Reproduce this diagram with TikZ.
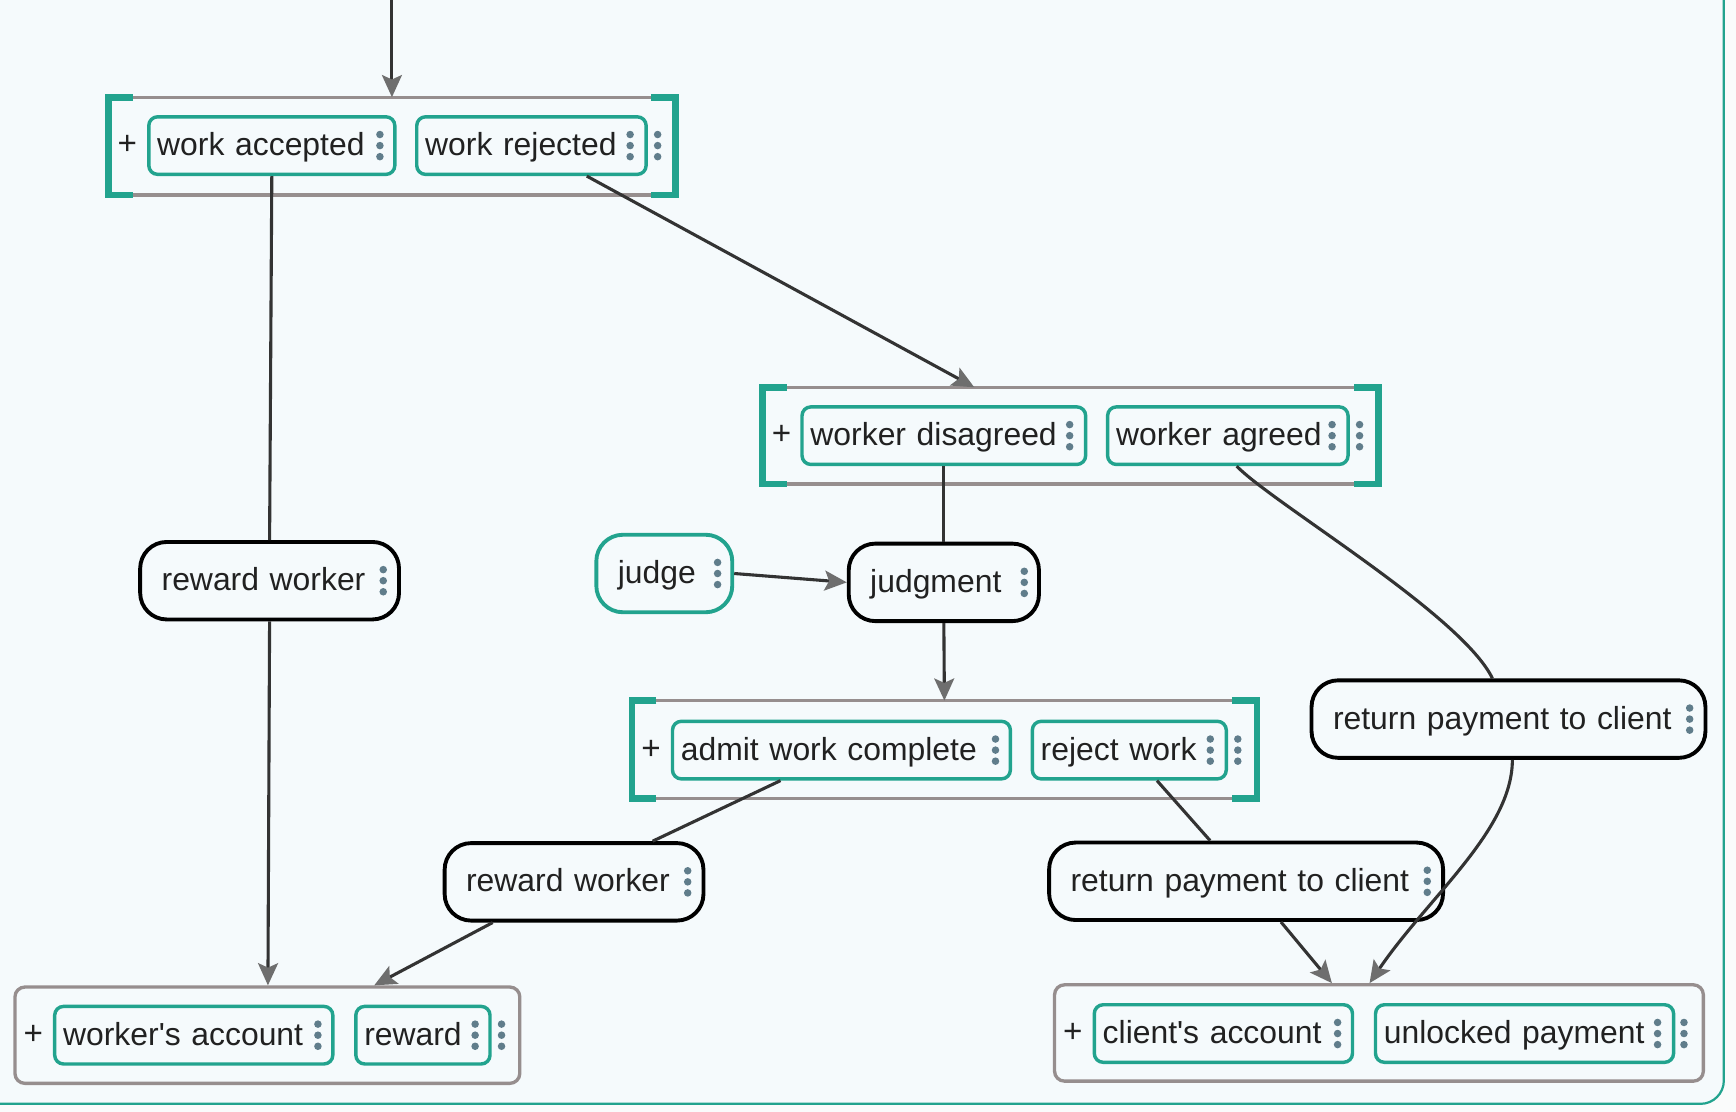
\documentclass[tikz,border=0pt]{standalone}
\usepackage{fontspec}
\setmainfont{Liberation Sans}
\newfontfamily\rfont{Liberation Sans}
\usetikzlibrary{arrows.meta,calc}
\definecolor{tealc}{HTML}{22A38E}
\definecolor{dotc}{HTML}{607D8B}
\definecolor{grayc}{HTML}{968E8E}
\definecolor{linec}{HTML}{333333}
\definecolor{arrowc}{HTML}{6E6E6E}
\definecolor{textc}{HTML}{212121}
\definecolor{bgc}{HTML}{F5FAFC}
\definecolor{outc}{HTML}{FAFBFB}
\newcommand\kebab[1]{\foreach \dy in {-10,0,10} {\fill[dotc] ($(#1)+(0,\dy)$) circle (3.4pt);}}
\newcommand\brackgroup[1]{%
  \draw[grayc, line width=3pt] (#1.north west) -- (#1.north east);
  \draw[grayc, line width=3pt] (#1.south west) -- (#1.south east);
  \draw[tealc, line width=6pt, line cap=butt, line join=miter] ($(#1.north west)+(22,0)$) -- (#1.north west) -- (#1.south west) -- ++(22,0);
  \draw[tealc, line width=6pt, line cap=butt, line join=miter] ($(#1.north east)+(-22,0)$) -- (#1.north east) -- (#1.south east) -- ++(-22,0);
}
\begin{document}
\begin{tikzpicture}[x=1pt,y=-1pt,
  font=\rfont\fontsize{28.8}{32}\selectfont, text=textc,
  inbox/.style={draw=tealc, line width=3.1pt, rounded corners=8pt, minimum height=52pt,
    inner xsep=7.6pt, inner ysep=0pt, align=left, text height=21pt, text depth=3pt},
  proc/.style={draw=black, line width=3.5pt, rounded corners=24pt, minimum height=70pt,
    inner xsep=19.4pt, inner ysep=0pt, align=left, text height=21pt, text depth=3pt},
  judgebox/.style={proc, draw=tealc},
  grp/.style={inner sep=0pt},
  rgrp/.style={draw=grayc, line width=3pt, rounded corners=9pt, inner sep=0pt},
  plus/.style={inner sep=0pt, font=\rfont\fontsize{30}{32}\selectfont},
  conn/.style={draw=linec, line width=2.8pt},
  arr/.style={conn, -{Stealth[length=20pt,width=18pt,inset=4pt,color=arrowc]}}
]
\useasboundingbox (0,0) rectangle (1568,1004);
\fill[outc] (0,0) rectangle (1568,1004);
\filldraw[fill=bgc, draw=tealc, line width=2pt, rounded corners=21pt] (-40,-40) rectangle (1557,997);

% ---------- group A ----------
\node[grp, minimum width=512pt, minimum height=88pt] (gA) at (354,132) {};
\brackgroup{gA}
\node[plus] (pA) at (115,131) {+};
\node[inbox, text width=207pt] (wa) at (245.5,131.5) {work accepted};
\node[inbox, text width=192pt] (wr) at (480,131.5) {work rejected};
\kebab{$(wa.east)+(-15,0)$}
\kebab{$(wr.east)+(-16,0)$}
\coordinate (dA) at (594,131.5);
\kebab{dA}

% ---------- group B ----------
\node[grp, minimum width=556pt, minimum height=87pt] (gB) at (967,393.5) {};
\brackgroup{gB}
\node[plus] (pB) at (706,393) {+};
\node[inbox, text width=241pt] (wd) at (852.5,393.5) {worker disagreed};
\node[inbox, text width=202pt] (wag) at (1109,393.5) {worker agreed};
\kebab{$(wd.east)+(-16,0)$}
\kebab{$(wag.east)+(-16,0)$}
\coordinate (dB) at (1228,393.5);
\kebab{dB}

% ---------- group C ----------
\node[grp, minimum width=564pt, minimum height=88pt] (gC) at (853,677) {};
\brackgroup{gC}
\node[plus] (pC) at (588,677) {+};
\node[inbox, text width=290pt] (awc) at (760,677.5) {admit work complete};
\node[inbox, text width=160pt] (rjw) at (1020,677.5) {reject work};
\kebab{$(awc.east)+(-15,0)$}
\kebab{$(rjw.east)+(-16,0)$}
\coordinate (dC) at (1118,677.5);
\kebab{dC}

% ---------- group D ----------
\node[rgrp, minimum width=456pt, minimum height=87pt] (gD) at (241.5,935) {};
\node[plus] (pD) at (30,935) {+};
\node[inbox, text width=236pt] (wacc) at (175,935) {worker's account};
\node[inbox, text width=106pt] (rew) at (382,935) {reward};
\kebab{$(wacc.east)+(-15,0)$}
\kebab{$(rew.east)+(-15,0)$}
\coordinate (dD) at (453,935);
\kebab{dD}

% ---------- group E ----------
\node[rgrp, minimum width=586pt, minimum height=87pt] (gE) at (1245.5,933) {};
\node[plus] (pE) at (969,933) {+};
\node[inbox, text width=218pt] (cacc) at (1105,933.5) {client's account};
\node[inbox, text width=254pt] (up) at (1377,933.5) {unlocked payment};
\kebab{$(cacc.east)+(-15,0)$}
\kebab{$(up.east)+(-16,0)$}
\coordinate (dE) at (1521,933.5);
\kebab{dE}

% ---------- process nodes ----------
\node[proc, text width=195pt] (rw1) at (243.5,524.5) {reward worker};
\node[proc, text width=195pt] (rw2) at (518.5,796.5) {reward worker};
\node[judgebox, text width=84pt] (jd) at (600,518) {judge};
\node[proc, text width=133pt] (jm) at (852.5,526) {judgment};
\node[proc, text width=317pt] (rp1) at (1362.5,649.5) {return payment to client};
\node[proc, text width=317pt] (rp2) at (1125.5,796) {return payment to client};
\kebab{$(rw1.east)+(-16,0)$}
\kebab{$(rw2.east)+(-16,0)$}
\kebab{$(jd.east)+(-15,0)$}
\kebab{$(jm.east)+(-15,0)$}
\kebab{$(rp1.east)+(-16,0)$}
\kebab{$(rp2.east)+(-16,0)$}

% ---------- connectors ----------
\coordinate (top) at (354,-5);
\draw[arr] (top) -- (gA.north);
\draw[conn] (wa.south) -- (rw1.north);
\draw[arr] (rw1.south) -- ($(gD.north)+(0.5,0)$);
\draw[arr] ($(wr.south)+(50,0)$) -- ($(gB.north)+(-87,0)$);
\draw[conn] (wd.south) -- (jm.north);
\draw[arr] (jd.east) -- (jm.west);
\draw[arr] (jm.south) -- (gC.north);
\draw[conn] ($(awc.south)+(-55,0)$) -- ($(rw2.north)+(71,0)$);
\draw[arr] ($(rw2.south)+(-73.5,0)$) -- ($(gD.north)+(96.5,0)$);
\draw[conn] ($(rjw.south)+(25,0)$) -- ($(rp2.north)+(-32.5,0)$);
\draw[arr] ($(rp2.south)+(31.5,0)$) -- ($(gE.north)+(-42.5,0)$);
\draw[conn] ($(wag.south)+(8,0)$) .. controls (1150,455) and (1320,555) .. ($(rp1.north)+(-14.5,0)$);
\draw[arr] ($(rp1.south)+(3.5,0)$) .. controls (1366,750) and (1290,810) .. ($(gE.north)+(-8.5,0)$);
\end{tikzpicture}
\end{document}
